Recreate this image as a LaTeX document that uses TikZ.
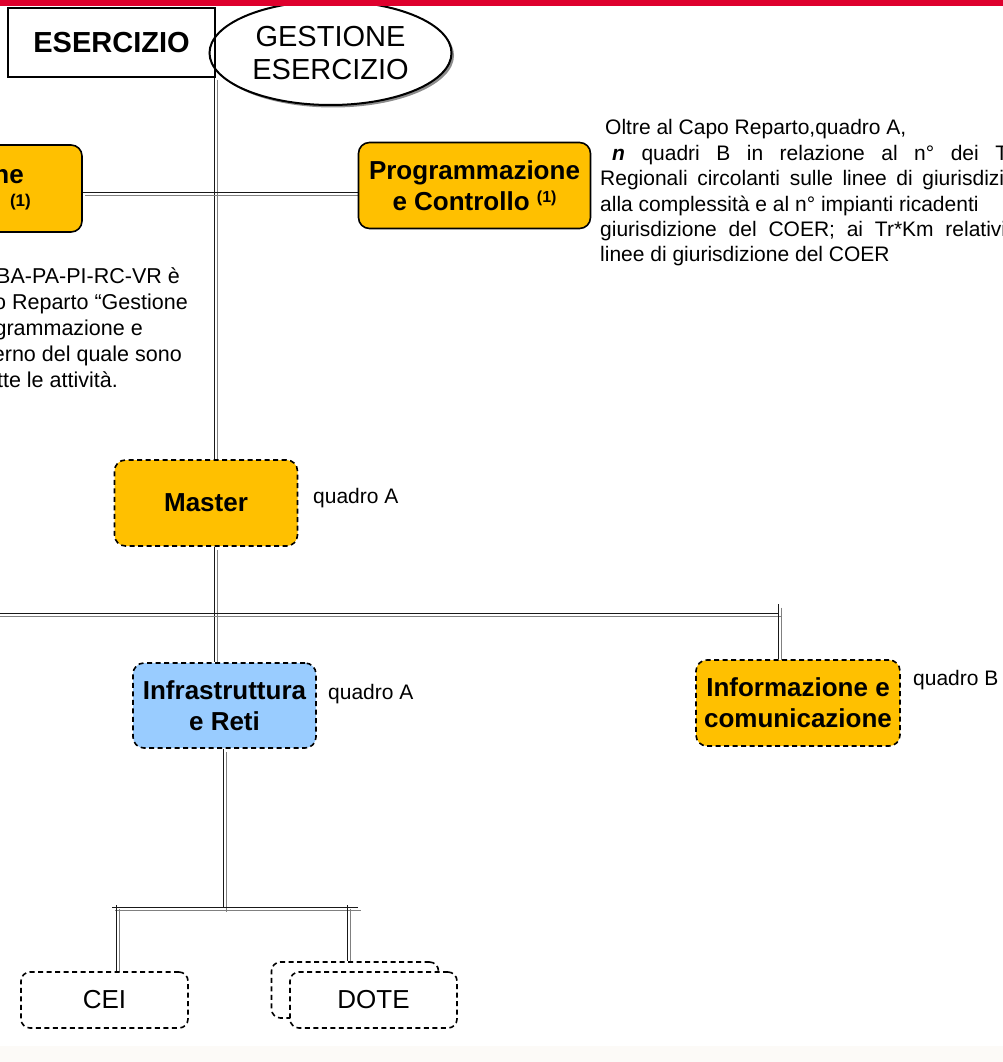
\documentclass[tikz,border=0pt]{standalone}
\usepackage{fontspec}
\setmainfont{Liberation Sans}
\usetikzlibrary{shapes.geometric,shadows,backgrounds}
\definecolor{ybox}{RGB}{255,192,0}
\definecolor{bbox}{RGB}{153,204,255}
\definecolor{redbar}{RGB}{222,0,45}
\definecolor{botband}{RGB}{252,250,247}
\tikzset{
  boxbase/.style={rounded corners=11pt, inner sep=0pt, align=center,
    font=\bfseries\fontsize{26}{31}\selectfont, line width=1.6pt},
  solidbox/.style={boxbase, draw=black, fill=ybox},
  dashbox/.style={boxbase, draw=black, fill=ybox, dash pattern=on 5pt off 3.5pt},
  whitebox/.style={boxbase, draw=black, fill=white, dash pattern=on 5pt off 3.5pt,
    rounded corners=9pt, font=\fontsize{26}{31}\selectfont},
  conn/.style={line width=1pt, draw=black!90,
    preaction={draw=black!50, line width=1pt, transform canvas={shift={(3pt,-3.5pt)}}}},
  qlabel/.style={font=\fontsize{21}{25}\selectfont, inner sep=0pt},
  ptext/.style={font=\fontsize{21}{25}\selectfont, inner sep=0pt, anchor=base west},
  ltext/.style={font=\fontsize{21.5}{25}\selectfont, inner sep=0pt, anchor=base east}
}
\begin{document}
\begin{tikzpicture}[x=1pt,y=-1pt]
\useasboundingbox (0,0) rectangle (1003,1062);
\clip (0,0) rectangle (1003,1062);
\fill[botband] (0,1046) rectangle (1003,1062);

% header
\node[ellipse, draw=black, line width=2pt, fill=white, minimum width=242pt,
  minimum height=104pt, inner sep=0pt, align=center,
  font=\fontsize{29}{33}\selectfont,
  drop shadow={shadow xshift=2.5pt, shadow yshift=-2.5pt, fill=black!45, opacity=1}]
  (gest) at (330.5,53) {GESTIONE\\ESERCIZIO};
\node[draw=black, line width=1.3pt, minimum width=207pt, minimum height=69pt,
  inner sep=0pt, font=\bfseries\fontsize{29}{33}\selectfont]
  (eser) at (111.5,42.5) {ESERCIZIO};

% boxes
\node[solidbox, minimum width=160pt, minimum height=87pt] (lbox) at (2,188.5) {};
\node[inner sep=0pt, anchor=base east, font=\bfseries\fontsize{26}{31}\selectfont]
  (lboxa) at (24,183) {ne};
\node[inner sep=0pt, anchor=base east, font=\bfseries\fontsize{17}{20}\selectfont]
  (lboxb) at (31,206) {(1)};

\node[solidbox, minimum width=232pt, minimum height=86pt] (prog) at (474.5,185.5)
  {Programmazione\\e Controllo \raisebox{8pt}{\fontsize{16}{19}\selectfont(1)}};

\node[dashbox, minimum width=183pt, minimum height=86pt] (master) at (206,503) {Master};
\node[qlabel, anchor=west] (qm) at (313,498) {quadro A};

\node[dashbox, fill=bbox, minimum width=183pt, minimum height=85pt] (infra)
  at (224.5,705.5) {Infrastruttura\\e Reti};
\node[qlabel, anchor=west] (qi) at (328,694) {quadro A};

\node[dashbox, minimum width=204pt, minimum height=86pt] (info) at (798,703)
  {Informazione e\\comunicazione};
\node[qlabel, anchor=west] (qinfo) at (913,680) {quadro B};

\node[whitebox, minimum width=167pt, minimum height=56pt] (cei) at (104.5,1000) {CEI};
\node[whitebox, minimum width=167pt, minimum height=56pt] (doteb) at (355,990) {};
\node[whitebox, minimum width=167pt, minimum height=56pt] (dote) at (373.5,1000) {DOTE};

% right text
\node[ptext] (r1) at (605,135) {Oltre al Capo Reparto,quadro A,};
\node[ptext] (r2) at (612,160) {\makebox[396pt][s]{\textbf{\textit{n}} quadri B in relazione al n° dei T}};
\node[ptext] (r3) at (600,185) {\makebox[404pt][s]{Regionali circolanti sulle linee di giurisdizi}};
\node[ptext] (r4) at (600,211) {alla complessità e al n° impianti ricadenti};
\node[ptext] (r5) at (600,236) {\makebox[406pt][s]{giurisdizione del COER; ai Tr*Km relativi}};
\node[ptext] (r6) at (600,261) {linee di giurisdizione del COER};

% left text
\node[ltext] (l1) at (180,283) {BA-PA-PI-RC-VR è};
\node[ltext] (l2) at (188,309) {o Reparto “Gestione};
\node[ltext] (l3) at (143,335) {grammazione e};
\node[ltext] (l4) at (182,361) {erno del quale sono};
\node[ltext] (l5) at (118,387) {tte le attività.};

% connectors
\coordinate (trunk) at (214,77);
\coordinate (hl) at (82,192);
\coordinate (busL) at (-5,613);
\coordinate (busR) at (778,613);
\coordinate (busRtop) at (778,604);
\coordinate (b2m) at (223,908);
\coordinate (b2L) at (112,907);
\coordinate (b2R) at (358,907);
\coordinate (ceitop) at (116,905);
\coordinate (dtop) at (347,905);
\begin{pgfonlayer}{background}
\draw[conn] (trunk) -- (trunk |- master.north);
\draw[conn] (hl) -- (hl -| prog.west);
\draw[conn] (master.south -| trunk) -- (infra.north -| trunk);
\draw[conn] (busL) -- (busR);
\draw[conn] (busRtop) -- (busRtop |- info.north);
\draw[conn] (infra.south -| b2m) -- (b2m);
\draw[conn] (b2L) -- (b2R);
\draw[conn] (ceitop) -- (ceitop |- cei.north);
\draw[conn] (dtop) -- (dtop |- doteb.north);
\end{pgfonlayer}

\fill[redbar] (0,0) rectangle (1003,6.5);
\end{tikzpicture}
\end{document}
